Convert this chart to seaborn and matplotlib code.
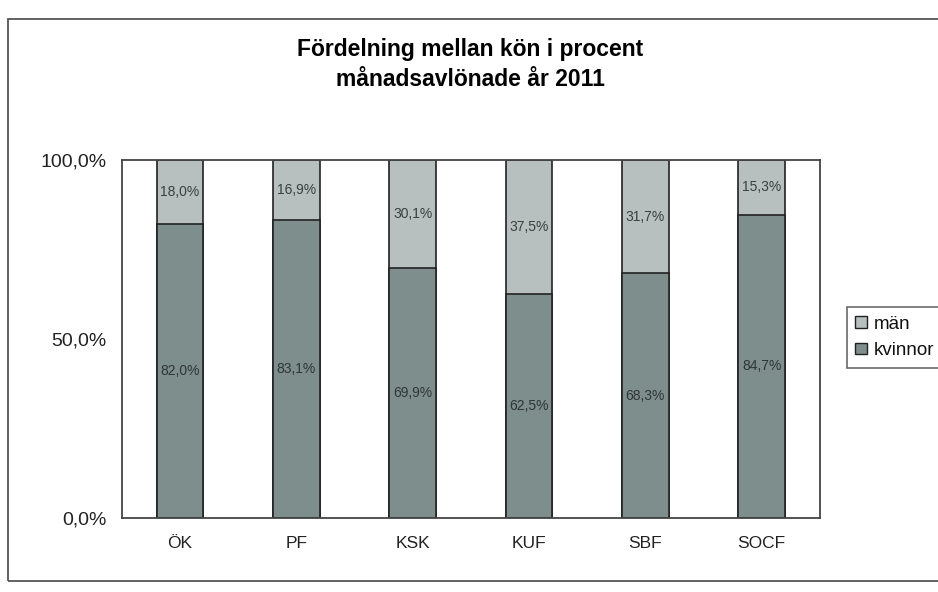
import numpy as np
import pandas as pd
import matplotlib
matplotlib.use("Agg")
import matplotlib.pyplot as plt
from matplotlib.patches import Rectangle, Patch
from matplotlib.ticker import FixedLocator
import seaborn as sns

# Data
enheter = ['ÖK', 'PF', 'KSK', 'KUF', 'SBF', 'SOCF']
kvinnor = [82.0, 83.1, 69.9, 62.5, 68.3, 84.7]
man = [18.0, 16.9, 30.1, 37.5, 31.7, 15.3]

df = pd.DataFrame({'enhet': enheter, 'kvinnor': kvinnor, 'män': man})
df['total'] = df['kvinnor'] + df['män']

sns.set_style('white')
plt.rcParams['font.family'] = ['Liberation Sans', 'DejaVu Sans']
plt.rcParams['text.color'] = '#111111'
plt.rcParams['xtick.color'] = '#222222'
plt.rcParams['ytick.color'] = '#222222'

fig = plt.figure(figsize=(9.38, 5.92), dpi=100)
ax = fig.add_axes([0.130, 0.125, 0.744, 0.605])

col_k = '#7d8e8c'
col_m = '#b7c0bf'
edge = '#222222'

# stacked: draw total (män on top) first, then kvinnor
sns.barplot(data=df, x='enhet', y='total', color=col_m, width=0.4,
            edgecolor=edge, linewidth=1.2, ax=ax, saturation=1)
sns.barplot(data=df, x='enhet', y='kvinnor', color=col_k, width=0.4,
            edgecolor=edge, linewidth=1.2, ax=ax, saturation=1)

for i, (k, m) in enumerate(zip(kvinnor, man)):
    ax.text(i, k / 2, f'{k:.1f}%'.replace('.', ','), ha='center', va='center',
            fontsize=10, color='#2f3535')
    ax.text(i, k + m / 2, f'{m:.1f}%'.replace('.', ','), ha='center', va='center',
            fontsize=10, color='#3a4040')

ax.set_ylim(0, 100)
ax.set_xlim(-0.5, len(enheter) - 0.5)
ax.set_yticks([0, 50, 100])
ax.set_yticklabels(['0,0%', '50,0%', '100,0%'], fontsize=14)
ax.set_xticks(range(len(enheter)))
ax.set_xticklabels(enheter, fontsize=12.5)
ax.xaxis.set_minor_locator(FixedLocator(np.arange(-0.5, len(enheter), 1.0)))
ax.tick_params(axis='x', which='major', length=0, pad=13)
ax.tick_params(axis='x', which='minor', length=5, direction='out', color='#333333', width=1)
ax.tick_params(axis='y', length=5, direction='out', color='#333333', width=1, pad=6)
ax.set_xlabel('')
ax.set_ylabel('')
for s in ax.spines.values():
    s.set_visible(True)
    s.set_color('#444444')
    s.set_linewidth(1.3)

fig.text(0.501, 0.917, 'Fördelning mellan kön i procent', ha='center', va='center',
         fontsize=16.5, fontweight='bold', color='black')
fig.text(0.501, 0.866, 'månadsavlönade år 2011', ha='center', va='center',
         fontsize=16.5, fontweight='bold', color='black')

# legend
handles = [Patch(facecolor=col_m, edgecolor=edge, label='män'),
           Patch(facecolor=col_k, edgecolor=edge, label='kvinnor')]
leg = fig.legend(handles=handles, loc='center left', bbox_to_anchor=(0.893, 0.43),
                 fontsize=13.5, frameon=True, fancybox=False, edgecolor='#444444',
                 handlelength=0.6, handleheight=0.6, handletextpad=0.4,
                 borderpad=0.45, labelspacing=0.5)
leg.get_frame().set_linewidth(1.2)

# chart border (runs off the right edge as in the scan)
fig.patches.append(Rectangle((0.009, 0.018), 1.05, 0.95, transform=fig.transFigure,
                             fill=False, edgecolor='#555555', linewidth=1.3))

fig.savefig('out.png', dpi=100)
